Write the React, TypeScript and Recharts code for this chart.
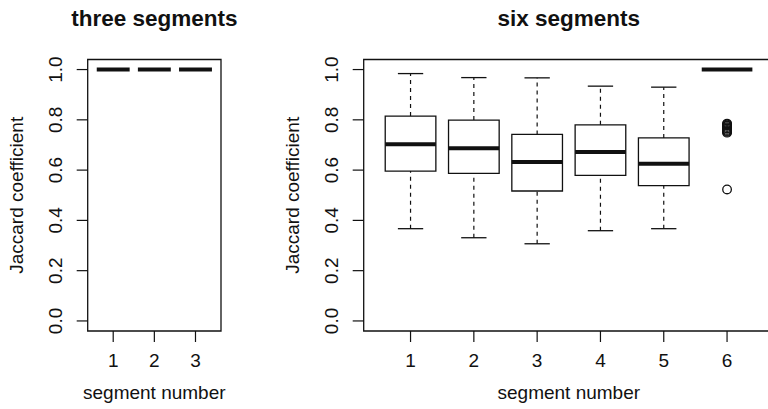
import React from "react"
import { ComposedChart, XAxis, YAxis, Scatter, ReferenceArea, ReferenceLine } from "recharts"

// three segments: every run gives a Jaccard coefficient of 1
const leftSegments = [1, 2, 3]
const leftLow = [1.0, 1.0, 1.0]
const leftQ1 = [1.0, 1.0, 1.0]
const leftMedian = [1.0, 1.0, 1.0]
const leftQ3 = [1.0, 1.0, 1.0]
const leftHigh = [1.0, 1.0, 1.0]

// six segments
const rightSegments = [1, 2, 3, 4, 5, 6]
const rightLow = [0.367, 0.331, 0.307, 0.359, 0.367, 1.0]
const rightQ1 = [0.596, 0.587, 0.517, 0.579, 0.538, 1.0]
const rightMedian = [0.703, 0.687, 0.632, 0.672, 0.625, 1.0]
const rightQ3 = [0.815, 0.799, 0.742, 0.78, 0.728, 1.0]
const rightHigh = [0.984, 0.968, 0.967, 0.934, 0.93, 1.0]
const outlierSegment = [6, 6, 6, 6, 6, 6, 6, 6, 6, 6, 6, 6]
const outlierValue = [0.785, 0.782, 0.778, 0.776, 0.771, 0.767, 0.765, 0.76, 0.756, 0.753, 0.749, 0.523]

const yTicks = [0, 0.2, 0.4, 0.6, 0.8, 1.0]
const FONT = "'Liberation Sans', Arial, Helvetica, sans-serif"
const INK = "#111"

function boxElements(
  cats: number[],
  low: number[],
  q1: number[],
  med: number[],
  q3: number[],
  high: number[]
) {
  const half = 0.4
  const cap = 0.2
  return cats.flatMap((c, i) => [
    <ReferenceLine key={`wl${i}`} segment={[{ x: c, y: low[i] }, { x: c, y: q1[i] }]} stroke={INK} strokeWidth={1.2} strokeDasharray="4 4" ifOverflow="visible" />,
    <ReferenceLine key={`wh${i}`} segment={[{ x: c, y: q3[i] }, { x: c, y: high[i] }]} stroke={INK} strokeWidth={1.2} strokeDasharray="4 4" ifOverflow="visible" />,
    <ReferenceLine key={`cl${i}`} segment={[{ x: c - cap, y: low[i] }, { x: c + cap, y: low[i] }]} stroke={INK} strokeWidth={1.3} ifOverflow="visible" />,
    <ReferenceLine key={`ch${i}`} segment={[{ x: c - cap, y: high[i] }, { x: c + cap, y: high[i] }]} stroke={INK} strokeWidth={1.3} ifOverflow="visible" />,
    <ReferenceArea key={`bx${i}`} x1={c - half} x2={c + half} y1={q1[i]} y2={q3[i]} fill="#fff" fillOpacity={1} stroke={INK} strokeWidth={1.3} ifOverflow="visible" />,
    <ReferenceLine key={`md${i}`} segment={[{ x: c - half, y: med[i] }, { x: c + half, y: med[i] }]} stroke={INK} strokeWidth={4} ifOverflow="visible" />,
  ])
}

function YTick(props: any) {
  const { x, y, payload } = props
  return (
    <text x={x} y={y} transform={`rotate(-90, ${x}, ${y})`} textAnchor="middle" fontSize={19} fontFamily={FONT} fill={INK}>
      {payload.value.toFixed(1)}
    </text>
  )
}

function XTick(props: any) {
  const { x, y, payload } = props
  return (
    <text x={x} y={y} textAnchor="middle" fontSize={19} fontFamily={FONT} fill={INK}>
      {payload.value}
    </text>
  )
}

function Outlier(props: any) {
  return <circle cx={props.cx} cy={props.cy} r={4.3} fill="none" stroke={INK} strokeWidth={1.3} />
}

function Panel(props: {
  width: number
  plotLeft: number
  plotRight: number
  cats: number[]
  children: React.ReactNode
}) {
  const { width, plotLeft, plotRight, cats, children } = props
  const lo = 0.5 - 0.04 * cats.length
  const hi = cats.length + 0.5 + 0.04 * cats.length
  return (
    <ComposedChart
      width={width}
      height={409}
      margin={{ top: 59.5, right: width - plotRight, left: plotLeft - 60, bottom: 18 }}
    >
      <XAxis
        type="number"
        dataKey="x"
        domain={[lo, hi]}
        ticks={cats}
        allowDataOverflow
        axisLine={false}
        tickLine={{ stroke: INK, strokeWidth: 1.2 }}
        tickSize={11}
        tickMargin={25}
        height={60}
        tick={<XTick />}
        interval={0}
      />
      <YAxis
        type="number"
        dataKey="y"
        domain={[-0.04, 1.04]}
        ticks={yTicks}
        allowDataOverflow
        axisLine={false}
        tickLine={{ stroke: INK, strokeWidth: 1.2 }}
        tickSize={11}
        tickMargin={15}
        width={60}
        tick={<YTick />}
        interval={0}
      />
      <ReferenceArea x1={lo} x2={hi} y1={-0.04} y2={1.04} fill="none" stroke={INK} strokeWidth={1.3} ifOverflow="visible" />
      {children}
    </ComposedChart>
  )
}

export default function App() {
  const outliers = outlierSegment.map((x, i) => ({ x, y: outlierValue[i] }))
  return (
    <div style={{ position: "absolute", left: 0, top: 0, width: 768, height: 409, overflow: "hidden", background: "#fff" }}>
      <div style={{ position: "absolute", left: 0, top: 0 }}>
        <Panel width={240} plotLeft={87.7} plotRight={221} cats={leftSegments}>
          {boxElements(leftSegments, leftLow, leftQ1, leftMedian, leftQ3, leftHigh)}
          <Scatter data={[]} isAnimationActive={false} />
        </Panel>
      </div>
      <div style={{ position: "absolute", left: 270, top: 0 }}>
        <Panel width={520} plotLeft={93.7} plotRight={503.9} cats={rightSegments}>
          {boxElements(rightSegments, rightLow, rightQ1, rightMedian, rightQ3, rightHigh)}
          <Scatter data={outliers} shape={<Outlier />} isAnimationActive={false} />
        </Panel>
      </div>
      <svg width={768} height={409} style={{ position: "absolute", left: 0, top: 0, pointerEvents: "none" }}>
        <g fontFamily={FONT} fill={INK}>
          <text x={154.3} y={26} textAnchor="middle" fontSize={22.5} fontWeight="bold">three segments</text>
          <text x={568.8} y={26} textAnchor="middle" fontSize={22.5} fontWeight="bold">six segments</text>
          <text x={154.3} y={399} textAnchor="middle" fontSize={19}>segment number</text>
          <text x={568.8} y={399} textAnchor="middle" fontSize={19}>segment number</text>
          <text x={23} y={195.3} transform="rotate(-90, 23, 195.3)" textAnchor="middle" fontSize={19}>Jaccard coefficient</text>
          <text x={299} y={195.3} transform="rotate(-90, 299, 195.3)" textAnchor="middle" fontSize={19}>Jaccard coefficient</text>
        </g>
      </svg>
    </div>
  )
}
